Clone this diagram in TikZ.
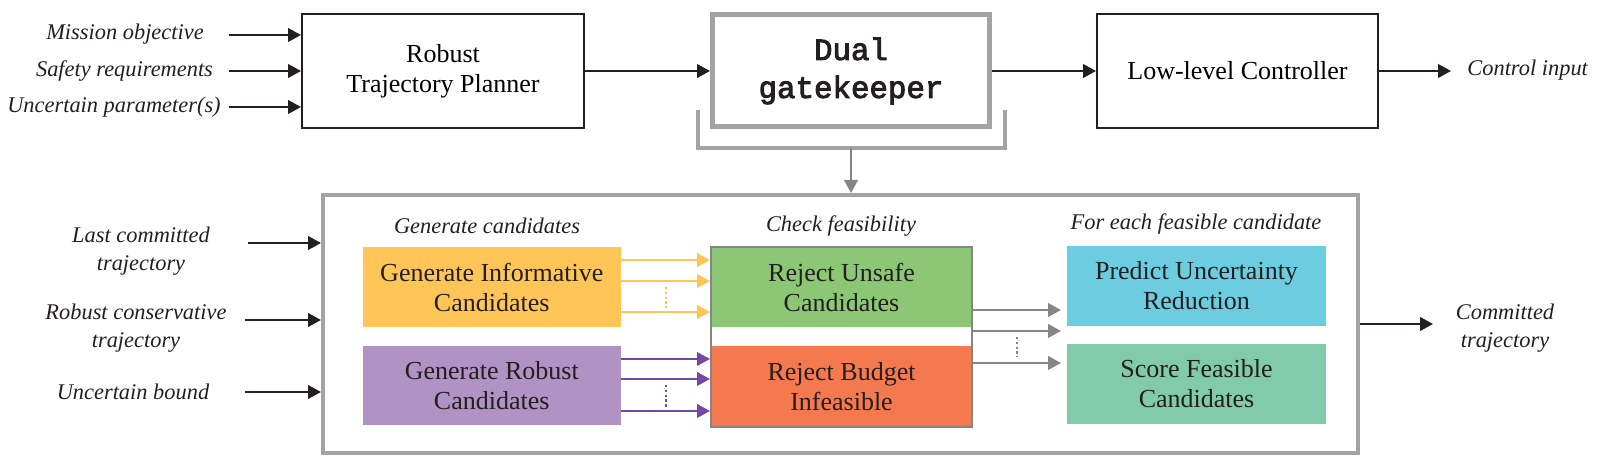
\documentclass[tikz,border=0pt]{standalone}
\usepackage{fontspec}
\setmainfont{Liberation Serif}
\setmonofont{Liberation Mono}
\newfontfamily\gkfont[FakeBold=3]{Liberation Mono}
\usetikzlibrary{arrows.meta,calc}
\definecolor{cblk}{HTML}{231F20}
\definecolor{cyel}{HTML}{FFC557}
\definecolor{cpur}{HTML}{B092C4}
\definecolor{cpurd}{HTML}{7448A6}
\definecolor{cgrn}{HTML}{8BC774}
\definecolor{corg}{HTML}{F4794E}
\definecolor{cblu}{HTML}{6CCCE0}
\definecolor{cteal}{HTML}{82CBAA}
\definecolor{cgray}{HTML}{A3A3A5}
\definecolor{cgrayd}{HTML}{858588}
\begin{document}
\begin{tikzpicture}[x=0.5pt,y=-0.5pt,
  blk/.style={draw=cblk, line width=1pt, fill=white, align=center, inner sep=0pt,
    font=\fontsize{13}{15}\selectfont},
  lbl/.style={align=center, inner sep=0pt, text=cblk, font=\fontsize{11.2}{14}\selectfont\itshape},
  cbox/.style={inner sep=0pt, align=center, text=cblk, minimum width=129.5pt, minimum height=40pt,
    font=\fontsize{13}{15}\selectfont},
  tip/.style={-{Triangle[length=6.5pt,width=6.8pt]}},
  arr/.style={tip, line width=1.15pt, draw=cblk},
  yarr/.style={tip, line width=1.1pt, draw=cyel},
  parr/.style={tip, line width=1.1pt, draw=cpurd},
  garr/.style={tip, line width=1.1pt, draw=cgrayd},
  dots/.style={line width=0.8pt, dash pattern=on 1.2pt off 1.2pt}
]
\useasboundingbox (0,0) rectangle (1600,470);

% ---------- top row ----------
\node[blk, minimum width=141pt, minimum height=57pt] (rtp) at (443,71) {Robust\\Trajectory Planner};
\node[draw=cgray, line width=2.5pt, minimum width=138.5pt, minimum height=56pt, align=center, inner sep=0pt,
  text=cblk, font=\fontsize{15.4}{19}\selectfont\gkfont] (dual) at (851,71) {Dual\\gatekeeper};
\node[blk, minimum width=140.5pt, minimum height=57pt] (llc) at (1237.5,71) {Low-level Controller};

\node[lbl] (in1) at (125,34) {Mission objective};
\node[lbl] (in2) at (124.5,71) {Safety requirements};
\node[lbl] (in3) at (114,107) {Uncertain parameter(s)};
\coordinate (s1) at (229,35);
\coordinate (s2) at (229,71);
\coordinate (s3) at (229,107);
\draw[arr] (s1) -- (s1 -| rtp.west);
\draw[arr] (s2) -- (s2 -| rtp.west);
\draw[arr] (s3) -- (s3 -| rtp.west);

\draw[arr] (rtp.east) -- (dual.west);
\draw[arr] (dual.east) -- (llc.west);
\coordinate (ci) at (1451,71);
\draw[arr] (llc.east) -- (ci);
\node[lbl, anchor=west] (ctl) at (1467,70) {Control input};

% ---------- bracket ----------
\coordinate (bl) at (698,110);
\coordinate (br) at (1005,110);
\coordinate (bm) at (851,148);
\draw[cgray, line width=2pt] (bl) -- (bl |- bm) -- (br |- bm) -- (br);

% ---------- big box ----------
\node[draw=cgray, line width=2pt, minimum width=517.5pt, minimum height=129pt, inner sep=0pt] (gk) at (840.5,324) {};
\draw[garr] (bm) -- (bm |- gk.north);

\node[lbl] (t1) at (487,226) {Generate candidates};
\node[lbl] (t2) at (841,226) {Check feasibility};
\node[lbl] (t3) at (1196,224) {For each feasible candidate};

\node[cbox, fill=cyel, minimum width=129.25pt] (yi) at (491.75,287) {Generate Informative\\Candidates};
\node[cbox, fill=cpur, minimum width=129.25pt, minimum height=39.5pt] (gr) at (491.75,385.5) {Generate Robust\\Candidates};
\node[cbox, fill=cgrn, minimum width=130.5pt] (ru) at (841.5,287) {Reject Unsafe\\Candidates};
\node[cbox, fill=corg, minimum width=130.5pt, minimum height=40.5pt] (rb) at (841.5,386.5) {Reject Budget\\Infeasible};
\node[draw=cgrayd, line width=1pt, minimum width=130.5pt, minimum height=90pt, inner sep=0pt] (fr) at (841.5,337) {};
\node[cbox, fill=cblu] (pu) at (1196.5,286) {Predict Uncertainty\\Reduction};
\node[cbox, fill=cteal] (sf) at (1196.5,384) {Score Feasible\\Candidates};

% yellow arrows
\path ([yshift=13.5pt]yi.east) coordinate (ya1);
\path ([yshift=3pt]yi.east) coordinate (ya2);
\path ([yshift=-12.5pt]yi.east) coordinate (ya3);
\draw[yarr] (ya1) -- (ya1 -| fr.west);
\draw[yarr] (ya2) -- (ya2 -| fr.west);
\draw[yarr] (ya3) -- (ya3 -| fr.west);
\coordinate (yd1) at (666,287);
\coordinate (yd2) at (666,308);
\draw[dots, cyel] (yd1) -- (yd2);

% purple arrows
\path ([yshift=13.25pt]gr.east) coordinate (pa1);
\path ([yshift=3.25pt]gr.east) coordinate (pa2);
\path ([yshift=-12.75pt]gr.east) coordinate (pa3);
\draw[parr] (pa1) -- (pa1 -| fr.west);
\draw[parr] (pa2) -- (pa2 -| fr.west);
\draw[parr] (pa3) -- (pa3 -| fr.west);
\coordinate (pd1) at (666,385);
\coordinate (pd2) at (666,407);
\draw[dots, cpurd] (pd1) -- (pd2);

% gray arrows
\coordinate (pe) at (1061,0);
\path ([yshift=13.5pt]fr.east) coordinate (ga1);
\path ([yshift=3pt]fr.east) coordinate (ga2);
\path ([yshift=-13pt]fr.east) coordinate (ga3);
\draw[garr] (ga1) -- (ga1 -| pe);
\draw[garr] (ga2) -- (ga2 -| pe);
\draw[garr] (ga3) -- (ga3 -| pe);
\coordinate (gd1) at (1017,337);
\coordinate (gd2) at (1017,357);
\draw[dots, cgrayd] (gd1) -- (gd2);

% left inputs
\node[lbl] (l1t) at (141,251) {Last committed\\trajectory};
\node[lbl] (l2t) at (136,328) {Robust conservative\\trajectory};
\node[lbl] (l3t) at (133,392) {Uncertain bound};
\coordinate (l1) at (248,243);
\coordinate (l2) at (245,320);
\coordinate (l3) at (245,392);
\draw[arr] (l1) -- (l1 -| gk.west);
\draw[arr] (l2) -- (l2 -| gk.west);
\draw[arr] (l3) -- (l3 -| gk.west);

% output
\coordinate (ce) at (1433,324);
\draw[arr] (gk.east) -- (ce);
\node[lbl] (cot) at (1505,328) {Committed\\trajectory};
\end{tikzpicture}
\end{document}
